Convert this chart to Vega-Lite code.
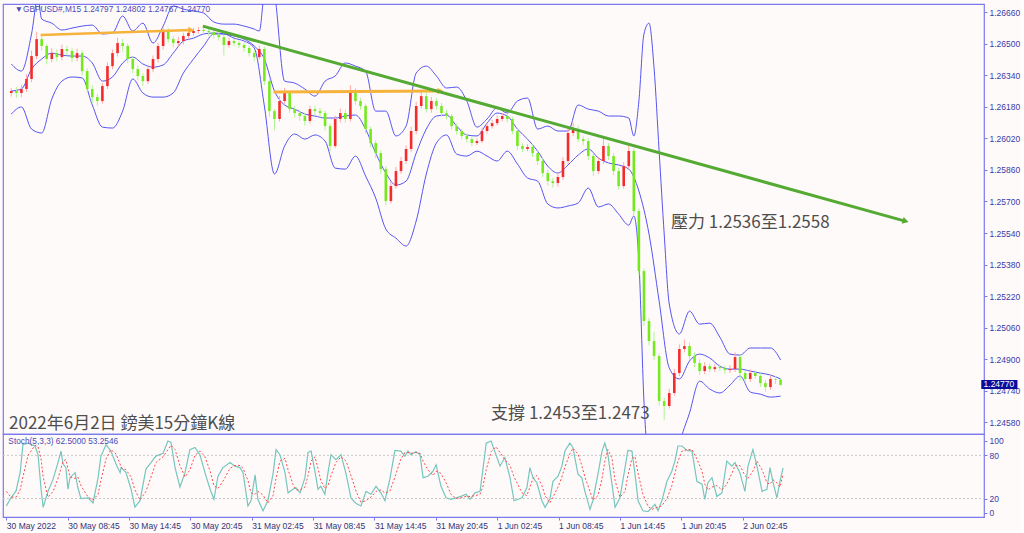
{
"$schema": "https://vega.github.io/schema/vega-lite/v6.json",
"padding": {"left": 0, "top": 3, "right": 0, "bottom": 0},
"background": "#fffafa",
"spacing": 0,
"bounds": "flush",
"config": {
  "view": {"stroke": "#7a7aee", "strokeWidth": 1.2},
  "axis": {"labelFont": "Liberation Sans", "labelFontSize": 8.5, "labelColor": "#3a3aa8", "tickColor": "#7a7aee", "domain": false, "grid": false}
},
"datasets": {
  "candles": [
{"i":0,"o":1.2625,"h":1.26275,"l":1.26232,"c":1.2626},
{"i":2,"o":1.2626,"h":1.2628,"l":1.26225,"c":1.2625},
{"i":4,"o":1.2625,"h":1.2629,"l":1.2623,"c":1.2627},
{"i":6,"o":1.2627,"h":1.26345,"l":1.26255,"c":1.26321},
{"i":8,"o":1.26321,"h":1.26465,"l":1.26305,"c":1.26437},
{"i":10,"o":1.26437,"h":1.2656,"l":1.2642,"c":1.26523},
{"i":12,"o":1.26523,"h":1.26545,"l":1.26465,"c":1.26488},
{"i":14,"o":1.26488,"h":1.265,"l":1.26395,"c":1.26422},
{"i":16,"o":1.26422,"h":1.26478,"l":1.26405,"c":1.26452},
{"i":18,"o":1.26452,"h":1.2647,"l":1.2641,"c":1.26432},
{"i":20,"o":1.26432,"h":1.26495,"l":1.26415,"c":1.26473},
{"i":22,"o":1.26473,"h":1.2649,"l":1.2644,"c":1.26463},
{"i":24,"o":1.26463,"h":1.2648,"l":1.26405,"c":1.26427},
{"i":26,"o":1.26427,"h":1.26475,"l":1.2641,"c":1.26452},
{"i":28,"o":1.26452,"h":1.26465,"l":1.2634,"c":1.26361},
{"i":30,"o":1.26361,"h":1.26375,"l":1.2625,"c":1.2627},
{"i":32,"o":1.2627,"h":1.2629,"l":1.262,"c":1.26229},
{"i":34,"o":1.26229,"h":1.26245,"l":1.26185,"c":1.26209},
{"i":36,"o":1.26209,"h":1.263,"l":1.26195,"c":1.26285},
{"i":38,"o":1.26285,"h":1.26405,"l":1.2627,"c":1.26386},
{"i":40,"o":1.26386,"h":1.2647,"l":1.2637,"c":1.26452},
{"i":42,"o":1.26452,"h":1.2653,"l":1.26435,"c":1.26503},
{"i":44,"o":1.26503,"h":1.26525,"l":1.2646,"c":1.26488},
{"i":46,"o":1.26488,"h":1.265,"l":1.264,"c":1.26422},
{"i":48,"o":1.26422,"h":1.26435,"l":1.2635,"c":1.26371},
{"i":50,"o":1.26371,"h":1.2639,"l":1.26315,"c":1.26336},
{"i":52,"o":1.26336,"h":1.2635,"l":1.26285,"c":1.2631},
{"i":54,"o":1.2631,"h":1.2639,"l":1.26295,"c":1.26371},
{"i":56,"o":1.26371,"h":1.2644,"l":1.26355,"c":1.26422},
{"i":58,"o":1.26422,"h":1.26505,"l":1.26405,"c":1.26488},
{"i":60,"o":1.26488,"h":1.26585,"l":1.2647,"c":1.26564},
{"i":62,"o":1.26564,"h":1.2658,"l":1.26505,"c":1.26523},
{"i":64,"o":1.26523,"h":1.2654,"l":1.2648,"c":1.26503},
{"i":66,"o":1.26503,"h":1.26535,"l":1.26485,"c":1.26513},
{"i":68,"o":1.26513,"h":1.26555,"l":1.26495,"c":1.26539},
{"i":70,"o":1.26539,"h":1.2657,"l":1.26525,"c":1.26554},
{"i":72,"o":1.26554,"h":1.2658,"l":1.2654,"c":1.26564},
{"i":74,"o":1.26564,"h":1.26585,"l":1.2655,"c":1.26569},
{"i":76,"o":1.26569,"h":1.26582,"l":1.26548,"c":1.26564},
{"i":78,"o":1.26564,"h":1.26578,"l":1.2654,"c":1.26559},
{"i":80,"o":1.26559,"h":1.2657,"l":1.26525,"c":1.26544},
{"i":82,"o":1.26544,"h":1.26555,"l":1.26515,"c":1.26533},
{"i":84,"o":1.26533,"h":1.26545,"l":1.2644,"c":1.26493},
{"i":86,"o":1.26493,"h":1.2653,"l":1.2648,"c":1.26513},
{"i":88,"o":1.26513,"h":1.26525,"l":1.26488,"c":1.26503},
{"i":90,"o":1.26503,"h":1.26515,"l":1.26478,"c":1.26493},
{"i":92,"o":1.26493,"h":1.26505,"l":1.2646,"c":1.26478},
{"i":94,"o":1.26478,"h":1.2649,"l":1.26435,"c":1.26452},
{"i":96,"o":1.26452,"h":1.26465,"l":1.2641,"c":1.26432},
{"i":98,"o":1.26432,"h":1.2649,"l":1.2642,"c":1.26473},
{"i":100,"o":1.26473,"h":1.26485,"l":1.2629,"c":1.2631},
{"i":102,"o":1.2631,"h":1.2632,"l":1.2613,"c":1.26158},
{"i":104,"o":1.26158,"h":1.2617,"l":1.2606,"c":1.26118},
{"i":106,"o":1.26118,"h":1.26235,"l":1.26105,"c":1.26209},
{"i":108,"o":1.26209,"h":1.26275,"l":1.26195,"c":1.2625},
{"i":110,"o":1.2625,"h":1.2626,"l":1.2615,"c":1.26168},
{"i":112,"o":1.26168,"h":1.26185,"l":1.26125,"c":1.26148},
{"i":114,"o":1.26148,"h":1.26165,"l":1.2611,"c":1.26133},
{"i":116,"o":1.26133,"h":1.2615,"l":1.26085,"c":1.26108},
{"i":118,"o":1.26108,"h":1.26185,"l":1.26095,"c":1.26168},
{"i":120,"o":1.26168,"h":1.26185,"l":1.26135,"c":1.26158},
{"i":122,"o":1.26158,"h":1.26175,"l":1.26125,"c":1.26148},
{"i":124,"o":1.26148,"h":1.2616,"l":1.2606,"c":1.26082},
{"i":126,"o":1.26082,"h":1.26095,"l":1.25955,"c":1.25981},
{"i":128,"o":1.25981,"h":1.26135,"l":1.2597,"c":1.26118},
{"i":130,"o":1.26118,"h":1.2617,"l":1.261,"c":1.26148},
{"i":132,"o":1.26148,"h":1.26165,"l":1.261,"c":1.26118},
{"i":134,"o":1.26118,"h":1.2629,"l":1.26105,"c":1.2626},
{"i":136,"o":1.2626,"h":1.26275,"l":1.2619,"c":1.26209},
{"i":138,"o":1.26209,"h":1.26225,"l":1.26165,"c":1.26184},
{"i":140,"o":1.26184,"h":1.26195,"l":1.26045,"c":1.26067},
{"i":142,"o":1.26067,"h":1.2608,"l":1.25975,"c":1.25996},
{"i":144,"o":1.25996,"h":1.2601,"l":1.2592,"c":1.25945},
{"i":146,"o":1.25945,"h":1.2596,"l":1.2584,"c":1.25864},
{"i":148,"o":1.25864,"h":1.2588,"l":1.2568,"c":1.25702},
{"i":150,"o":1.25702,"h":1.258,"l":1.2569,"c":1.25778},
{"i":152,"o":1.25778,"h":1.25875,"l":1.25765,"c":1.25854},
{"i":154,"o":1.25854,"h":1.25925,"l":1.2584,"c":1.25905},
{"i":156,"o":1.25905,"h":1.25985,"l":1.2589,"c":1.25966},
{"i":158,"o":1.25966,"h":1.2608,"l":1.2595,"c":1.26057},
{"i":160,"o":1.26057,"h":1.26205,"l":1.2604,"c":1.26184},
{"i":162,"o":1.26184,"h":1.26265,"l":1.2617,"c":1.26234},
{"i":164,"o":1.26234,"h":1.2625,"l":1.2615,"c":1.26168},
{"i":166,"o":1.26168,"h":1.2623,"l":1.2615,"c":1.26209},
{"i":168,"o":1.26209,"h":1.26225,"l":1.26165,"c":1.26184},
{"i":170,"o":1.26184,"h":1.262,"l":1.2613,"c":1.26148},
{"i":172,"o":1.26148,"h":1.26165,"l":1.26115,"c":1.26133},
{"i":174,"o":1.26133,"h":1.26145,"l":1.26065,"c":1.26082},
{"i":176,"o":1.26082,"h":1.26095,"l":1.2604,"c":1.26057},
{"i":178,"o":1.26057,"h":1.2607,"l":1.26015,"c":1.26032},
{"i":180,"o":1.26032,"h":1.26045,"l":1.26,"c":1.26016},
{"i":182,"o":1.26016,"h":1.2603,"l":1.2598,"c":1.25996},
{"i":184,"o":1.25996,"h":1.2602,"l":1.25985,"c":1.26006},
{"i":186,"o":1.26006,"h":1.26075,"l":1.25995,"c":1.26057},
{"i":188,"o":1.26057,"h":1.261,"l":1.26045,"c":1.26082},
{"i":190,"o":1.26082,"h":1.26115,"l":1.2607,"c":1.26097},
{"i":192,"o":1.26097,"h":1.26135,"l":1.26085,"c":1.26118},
{"i":194,"o":1.26118,"h":1.2615,"l":1.26105,"c":1.26133},
{"i":196,"o":1.26133,"h":1.26145,"l":1.261,"c":1.26118},
{"i":198,"o":1.26118,"h":1.2613,"l":1.2604,"c":1.26057},
{"i":200,"o":1.26057,"h":1.2607,"l":1.2596,"c":1.25981},
{"i":202,"o":1.25981,"h":1.25995,"l":1.2595,"c":1.25966},
{"i":204,"o":1.25966,"h":1.2599,"l":1.25955,"c":1.25976},
{"i":206,"o":1.25976,"h":1.2599,"l":1.25925,"c":1.25945},
{"i":208,"o":1.25945,"h":1.2596,"l":1.25885,"c":1.25905},
{"i":210,"o":1.25905,"h":1.2592,"l":1.25825,"c":1.25844},
{"i":212,"o":1.25844,"h":1.2586,"l":1.2578,"c":1.25803},
{"i":214,"o":1.25803,"h":1.2582,"l":1.2577,"c":1.25793},
{"i":216,"o":1.25793,"h":1.25845,"l":1.25775,"c":1.25824},
{"i":218,"o":1.25824,"h":1.25925,"l":1.2581,"c":1.25905},
{"i":220,"o":1.25905,"h":1.2607,"l":1.2589,"c":1.26047},
{"i":222,"o":1.26047,"h":1.261,"l":1.2603,"c":1.26067},
{"i":224,"o":1.26067,"h":1.26085,"l":1.26,"c":1.26016},
{"i":226,"o":1.26016,"h":1.2603,"l":1.25985,"c":1.26006},
{"i":228,"o":1.26006,"h":1.2602,"l":1.2591,"c":1.2593},
{"i":230,"o":1.2593,"h":1.25945,"l":1.2583,"c":1.25854},
{"i":232,"o":1.25854,"h":1.25925,"l":1.2584,"c":1.25905},
{"i":234,"o":1.25905,"h":1.2603,"l":1.2589,"c":1.25981},
{"i":236,"o":1.25981,"h":1.25995,"l":1.2591,"c":1.2593},
{"i":238,"o":1.2593,"h":1.25945,"l":1.25835,"c":1.25854},
{"i":240,"o":1.25854,"h":1.2587,"l":1.2576,"c":1.25778},
{"i":242,"o":1.25778,"h":1.259,"l":1.25765,"c":1.25879},
{"i":244,"o":1.25879,"h":1.25995,"l":1.25865,"c":1.25956},
{"i":246,"o":1.25956,"h":1.2597,"l":1.2563,"c":1.25651},
{"i":248,"o":1.25651,"h":1.25665,"l":1.25325,"c":1.25347},
{"i":250,"o":1.25347,"h":1.2536,"l":1.2507,"c":1.25094},
{"i":252,"o":1.25094,"h":1.2511,"l":1.2497,"c":1.24992},
{"i":254,"o":1.24992,"h":1.2504,"l":1.24895,"c":1.24916},
{"i":256,"o":1.24916,"h":1.2493,"l":1.24665,"c":1.24688},
{"i":258,"o":1.24688,"h":1.24705,"l":1.2459,"c":1.24663},
{"i":260,"o":1.24663,"h":1.2475,"l":1.2465,"c":1.24729},
{"i":262,"o":1.24729,"h":1.2485,"l":1.24715,"c":1.2483},
{"i":264,"o":1.2483,"h":1.24975,"l":1.24815,"c":1.24952},
{"i":266,"o":1.24952,"h":1.25,"l":1.24935,"c":1.24967},
{"i":268,"o":1.24967,"h":1.24985,"l":1.24895,"c":1.24916},
{"i":270,"o":1.24916,"h":1.24935,"l":1.2486,"c":1.24881},
{"i":272,"o":1.24881,"h":1.249,"l":1.2482,"c":1.2484},
{"i":274,"o":1.2484,"h":1.24885,"l":1.24825,"c":1.24865},
{"i":276,"o":1.24865,"h":1.2488,"l":1.24835,"c":1.2485},
{"i":278,"o":1.2485,"h":1.24875,"l":1.24835,"c":1.2486},
{"i":280,"o":1.2486,"h":1.24872,"l":1.2484,"c":1.24855},
{"i":282,"o":1.24855,"h":1.24868,"l":1.24825,"c":1.24845},
{"i":284,"o":1.24845,"h":1.2487,"l":1.2483,"c":1.2485},
{"i":286,"o":1.2485,"h":1.24935,"l":1.24835,"c":1.24911},
{"i":288,"o":1.24911,"h":1.24925,"l":1.2479,"c":1.2483},
{"i":290,"o":1.2483,"h":1.24845,"l":1.2478,"c":1.248},
{"i":292,"o":1.248,"h":1.2485,"l":1.24785,"c":1.2483},
{"i":294,"o":1.2483,"h":1.24845,"l":1.248,"c":1.24815},
{"i":296,"o":1.24815,"h":1.2483,"l":1.2476,"c":1.24779},
{"i":298,"o":1.24779,"h":1.24795,"l":1.24735,"c":1.24759},
{"i":300,"o":1.24759,"h":1.2482,"l":1.24745,"c":1.248},
{"i":302,"o":1.248,"h":1.24815,"l":1.24775,"c":1.24797},
{"i":304,"o":1.24797,"h":1.24802,"l":1.24767,"c":1.2477}
  ],
  "bandUp": [
{"i":0,"p":1.26397},{"i":4,"p":1.26361},{"i":8,"p":1.26549},{"i":10.5,"p":1.26731},{"i":12,"p":1.26625},{"i":16,"p":1.26604},{"i":20,"p":1.26569},{"i":24,"p":1.26579},{"i":28,"p":1.26589},{"i":32,"p":1.26594},{"i":36,"p":1.26549},{"i":40,"p":1.26554},{"i":44,"p":1.2664},{"i":48,"p":1.26564},{"i":52,"p":1.26604},{"i":56,"p":1.26503},{"i":60,"p":1.26589},{"i":64,"p":1.26691},{"i":68,"p":1.26675},{"i":72,"p":1.26665},{"i":76,"p":1.26655},{"i":80,"p":1.2661},{"i":84,"p":1.26599},{"i":88,"p":1.26599},{"i":92,"p":1.26589},{"i":96,"p":1.26574},{"i":98,"p":1.26564},{"i":100,"p":1.26767},{"i":102,"p":1.26843},{"i":104,"p":1.26757},{"i":108,"p":1.2631},{"i":112,"p":1.263},{"i":116,"p":1.2627},{"i":120,"p":1.26234},{"i":124,"p":1.2631},{"i":128,"p":1.26336},{"i":132,"p":1.26402},{"i":136,"p":1.26386},{"i":140,"p":1.26361},{"i":144,"p":1.26158},{"i":148,"p":1.26158},{"i":152,"p":1.26032},{"i":156,"p":1.26082},{"i":160,"p":1.26351},{"i":164,"p":1.26386},{"i":168,"p":1.26336},{"i":172,"p":1.26275},{"i":176,"p":1.2628},{"i":180,"p":1.26209},{"i":184,"p":1.26077},{"i":188,"p":1.26118},{"i":192,"p":1.26174},{"i":196,"p":1.26148},{"i":200,"p":1.26209},{"i":204,"p":1.26224},{"i":208,"p":1.26067},{"i":212,"p":1.26082},{"i":216,"p":1.26057},{"i":220,"p":1.26057},{"i":224,"p":1.26189},{"i":228,"p":1.26168},{"i":232,"p":1.26158},{"i":236,"p":1.26133},{"i":240,"p":1.26133},{"i":244,"p":1.26123},{"i":246,"p":1.26032},{"i":248,"p":1.26209},{"i":250,"p":1.26549},{"i":252,"p":1.26604},{"i":254,"p":1.26376},{"i":256,"p":1.25955},{"i":258,"p":1.25535},{"i":260,"p":1.2518},{"i":264,"p":1.25028},{"i":268,"p":1.25144},{"i":272,"p":1.25078},{"i":276,"p":1.25083},{"i":280,"p":1.25012},{"i":284,"p":1.24926},{"i":288,"p":1.24921},{"i":292,"p":1.24957},{"i":296,"p":1.24957},{"i":300,"p":1.24957},{"i":304,"p":1.24896}
  ],
  "bandMid": [
{"i":0,"p":1.2626},{"i":4,"p":1.2627},{"i":8,"p":1.26371},{"i":12,"p":1.26422},{"i":16,"p":1.26452},{"i":20,"p":1.26442},{"i":24,"p":1.26437},{"i":28,"p":1.26437},{"i":32,"p":1.26402},{"i":36,"p":1.2631},{"i":40,"p":1.26331},{"i":44,"p":1.26402},{"i":48,"p":1.26432},{"i":52,"p":1.26397},{"i":56,"p":1.26381},{"i":60,"p":1.26392},{"i":64,"p":1.26452},{"i":68,"p":1.26513},{"i":72,"p":1.26528},{"i":76,"p":1.26549},{"i":80,"p":1.26554},{"i":84,"p":1.26549},{"i":88,"p":1.26539},{"i":92,"p":1.26523},{"i":96,"p":1.26488},{"i":100,"p":1.26422},{"i":104,"p":1.2626},{"i":108,"p":1.26189},{"i":112,"p":1.26168},{"i":116,"p":1.26143},{"i":120,"p":1.26133},{"i":124,"p":1.26123},{"i":128,"p":1.26123},{"i":132,"p":1.26133},{"i":136,"p":1.26138},{"i":140,"p":1.26067},{"i":144,"p":1.25945},{"i":148,"p":1.25844},{"i":152,"p":1.25783},{"i":156,"p":1.25803},{"i":160,"p":1.25945},{"i":164,"p":1.26067},{"i":168,"p":1.26133},{"i":172,"p":1.26138},{"i":176,"p":1.26082},{"i":180,"p":1.26037},{"i":184,"p":1.26032},{"i":188,"p":1.26097},{"i":192,"p":1.26148},{"i":196,"p":1.26133},{"i":200,"p":1.26067},{"i":204,"p":1.26016},{"i":208,"p":1.25955},{"i":212,"p":1.25879},{"i":216,"p":1.25844},{"i":220,"p":1.25885},{"i":224,"p":1.25935},{"i":228,"p":1.25966},{"i":232,"p":1.2592},{"i":236,"p":1.25895},{"i":240,"p":1.25885},{"i":244,"p":1.25864},{"i":248,"p":1.25753},{"i":252,"p":1.25535},{"i":256,"p":1.25195},{"i":260,"p":1.24855},{"i":264,"p":1.248},{"i":268,"p":1.24891},{"i":272,"p":1.24926},{"i":276,"p":1.24906},{"i":280,"p":1.24865},{"i":284,"p":1.2485},{"i":288,"p":1.2485},{"i":292,"p":1.2484},{"i":296,"p":1.2483},{"i":300,"p":1.2482},{"i":304,"p":1.248}
  ],
  "bandLow": [
{"i":0,"p":1.26143},{"i":4,"p":1.26179},{"i":8,"p":1.26067},{"i":12,"p":1.26047},{"i":16,"p":1.26219},{"i":20,"p":1.2631},{"i":24,"p":1.26331},{"i":28,"p":1.26326},{"i":32,"p":1.26189},{"i":36,"p":1.26077},{"i":40,"p":1.26072},{"i":44,"p":1.26158},{"i":48,"p":1.26321},{"i":52,"p":1.2625},{"i":56,"p":1.26229},{"i":60,"p":1.26229},{"i":64,"p":1.2625},{"i":68,"p":1.26351},{"i":72,"p":1.26422},{"i":76,"p":1.26488},{"i":80,"p":1.26549},{"i":84,"p":1.26549},{"i":88,"p":1.26528},{"i":92,"p":1.26513},{"i":96,"p":1.26478},{"i":100,"p":1.26184},{"i":104,"p":1.25839},{"i":108,"p":1.25981},{"i":112,"p":1.26042},{"i":116,"p":1.26016},{"i":120,"p":1.26037},{"i":124,"p":1.26006},{"i":128,"p":1.25869},{"i":132,"p":1.25864},{"i":136,"p":1.2593},{"i":140,"p":1.25829},{"i":144,"p":1.25717},{"i":148,"p":1.2556},{"i":152,"p":1.25514},{"i":156,"p":1.25474},{"i":160,"p":1.25601},{"i":164,"p":1.25839},{"i":168,"p":1.25996},{"i":172,"p":1.26037},{"i":176,"p":1.2594},{"i":180,"p":1.2593},{"i":184,"p":1.25955},{"i":188,"p":1.2593},{"i":192,"p":1.25905},{"i":196,"p":1.25955},{"i":200,"p":1.2589},{"i":204,"p":1.25819},{"i":208,"p":1.25803},{"i":212,"p":1.25687},{"i":216,"p":1.25667},{"i":220,"p":1.25677},{"i":224,"p":1.25692},{"i":228,"p":1.25768},{"i":232,"p":1.25672},{"i":236,"p":1.25687},{"i":240,"p":1.25636},{"i":244,"p":1.2558},{"i":246,"p":1.25626},{"i":248,"p":1.25398},{"i":250,"p":1.24688},{"i":252,"p":1.24333},{"i":256,"p":1.2408},{"i":260,"p":1.2413},{"i":264,"p":1.2446},{"i":268,"p":1.24627},{"i":272,"p":1.24789},{"i":276,"p":1.24749},{"i":280,"p":1.24729},{"i":284,"p":1.24769},{"i":288,"p":1.24815},{"i":292,"p":1.24734},{"i":296,"p":1.24723},{"i":300,"p":1.24708},{"i":304,"p":1.24713}
  ],
  "stoch": [
{"i":0,"k":9.7,"d":30},{"i":1.8,"k":21,"d":22},{"i":3.8,"k":30.6,"d":22},{"i":5.4,"k":56,"d":32},{"i":6.5,"k":95,"d":50},{"i":8.5,"k":97,"d":80},{"i":11.2,"k":93,"d":94},{"i":12.4,"k":81,"d":92},{"i":13.6,"k":33,"d":75},{"i":14.4,"k":8,"d":50},{"i":16.3,"k":30,"d":22},{"i":18.3,"k":47,"d":30},{"i":20.2,"k":70,"d":48},{"i":21.4,"k":86,"d":62},{"i":22.2,"k":68,"d":72},{"i":23.3,"k":63,"d":74},{"i":24.1,"k":33,"d":62},{"i":24.9,"k":49,"d":50},{"i":26.9,"k":56,"d":48},{"i":28,"k":35,"d":50},{"i":29.2,"k":20,"d":38},{"i":32,"k":21,"d":22},{"i":33.9,"k":14,"d":18},{"i":35.9,"k":49,"d":26},{"i":37,"k":79,"d":45},{"i":39,"k":95,"d":75},{"i":40.9,"k":86,"d":88},{"i":42.9,"k":68,"d":82},{"i":44.5,"k":56,"d":68},{"i":44.9,"k":63,"d":63},{"i":46.8,"k":56,"d":60},{"i":48.8,"k":33,"d":50},{"i":50.3,"k":8,"d":32},{"i":52.3,"k":17,"d":18},{"i":54.6,"k":61,"d":30},{"i":56.6,"k":70,"d":50},{"i":58.5,"k":79,"d":70},{"i":61.3,"k":83,"d":78},{"i":63.2,"k":100,"d":88},{"i":64.4,"k":98,"d":94},{"i":66,"k":63,"d":88},{"i":67.9,"k":36,"d":66},{"i":69.9,"k":56,"d":50},{"i":71.8,"k":88,"d":60},{"i":73.8,"k":91,"d":80},{"i":75.7,"k":81,"d":86},{"i":77.7,"k":56,"d":78},{"i":79.7,"k":33,"d":58},{"i":81.2,"k":19,"d":38},{"i":82.8,"k":51,"d":34},{"i":84.7,"k":63,"d":44},{"i":87.5,"k":70,"d":62},{"i":89.4,"k":65,"d":66},{"i":91.4,"k":63,"d":66},{"i":92.6,"k":56,"d":62},{"i":94.5,"k":9.7,"d":45},{"i":95.7,"k":17,"d":28},{"i":97.3,"k":53,"d":26},{"i":98.4,"k":19,"d":30},{"i":100.4,"k":3,"d":25},{"i":102.3,"k":17,"d":14},{"i":104.3,"k":54,"d":24},{"i":105.5,"k":88,"d":48},{"i":107,"k":81,"d":72},{"i":109,"k":56,"d":76},{"i":110.2,"k":28,"d":60},{"i":112.1,"k":33,"d":40},{"i":113.3,"k":35,"d":32},{"i":114.9,"k":28,"d":32},{"i":116.8,"k":49,"d":36},{"i":118,"k":84,"d":52},{"i":119.2,"k":86,"d":72},{"i":120.7,"k":58,"d":78},{"i":121.9,"k":33,"d":62},{"i":123,"k":37,"d":45},{"i":124.6,"k":26,"d":34},{"i":125.8,"k":56,"d":38},{"i":127,"k":81,"d":52},{"i":128.9,"k":74,"d":70},{"i":130.9,"k":81,"d":78},{"i":132.9,"k":54,"d":72},{"i":134.8,"k":21,"d":52},{"i":136.8,"k":13,"d":30},{"i":138.7,"k":9.7,"d":15},{"i":140.7,"k":30,"d":17},{"i":142.6,"k":26,"d":22},{"i":144.6,"k":37,"d":30},{"i":146.5,"k":28,"d":32},{"i":148.1,"k":17,"d":28},{"i":150,"k":47,"d":30},{"i":152,"k":87,"d":50},{"i":154.3,"k":86,"d":75},{"i":155.9,"k":79,"d":84},{"i":157.1,"k":86,"d":84},{"i":158.3,"k":81,"d":83},{"i":160.2,"k":85,"d":84},{"i":161.8,"k":81,"d":83},{"i":163,"k":49,"d":72},{"i":164.9,"k":51,"d":60},{"i":166.9,"k":58,"d":52},{"i":168.1,"k":67,"d":58},{"i":170,"k":37,"d":55},{"i":172,"k":21,"d":42},{"i":173.9,"k":19,"d":26},{"i":175.9,"k":21,"d":20},{"i":177.8,"k":23,"d":21},{"i":179.8,"k":26,"d":23},{"i":181.4,"k":19,"d":23},{"i":183.3,"k":28,"d":24},{"i":185.3,"k":30,"d":26},{"i":186.5,"k":63,"d":38},{"i":187.7,"k":97,"d":60},{"i":189.6,"k":100,"d":85},{"i":191.5,"k":81,"d":92},{"i":193.1,"k":65,"d":84},{"i":195,"k":77,"d":74},{"i":197,"k":49,"d":66},{"i":198.6,"k":17,"d":50},{"i":201.7,"k":21,"d":28},{"i":203.6,"k":35,"d":24},{"i":204.8,"k":63,"d":36},{"i":206,"k":49,"d":48},{"i":207.5,"k":42,"d":52},{"i":209.5,"k":17,"d":38},{"i":210.7,"k":7.8,"d":24},{"i":212.6,"k":19,"d":14},{"i":213.8,"k":44,"d":22},{"i":215.8,"k":51,"d":36},{"i":217.3,"k":65,"d":50},{"i":218.5,"k":86,"d":64},{"i":220.4,"k":97,"d":82},{"i":221.6,"k":91,"d":90},{"i":223.6,"k":54,"d":82},{"i":225.1,"k":49,"d":66},{"i":226.3,"k":30,"d":50},{"i":228.3,"k":5,"d":30},{"i":229.4,"k":17,"d":18},{"i":231.4,"k":54,"d":24},{"i":233,"k":86,"d":48},{"i":234.1,"k":97,"d":72},{"i":235.3,"k":81,"d":88},{"i":236.9,"k":40,"d":76},{"i":238.1,"k":7.8,"d":45},{"i":240,"k":21,"d":22},{"i":242,"k":63,"d":30},{"i":243.1,"k":87,"d":52},{"i":244.7,"k":86,"d":76},{"i":245.9,"k":54,"d":78},{"i":247.1,"k":17,"d":55},{"i":249,"k":3,"d":26},{"i":251,"k":2,"d":9},{"i":252.6,"k":7.8,"d":5},{"i":253.7,"k":12,"d":7},{"i":254.9,"k":3,"d":8},{"i":256.4,"k":17,"d":10},{"i":258.4,"k":44,"d":20},{"i":260.3,"k":58,"d":38},{"i":261.5,"k":72,"d":55},{"i":262.7,"k":93,"d":72},{"i":264.3,"k":93,"d":86},{"i":266.2,"k":87,"d":88},{"i":268.2,"k":86,"d":88},{"i":270.1,"k":44,"d":75},{"i":272.1,"k":40,"d":58},{"i":273.2,"k":19,"d":40},{"i":274.4,"k":42,"d":32},{"i":276,"k":49,"d":36},{"i":277.9,"k":23,"d":38},{"i":279.9,"k":28,"d":32},{"i":281.8,"k":72,"d":40},{"i":283.8,"k":65,"d":55},{"i":285,"k":70,"d":66},{"i":286.9,"k":56,"d":66},{"i":288.9,"k":30,"d":52},{"i":290.1,"k":65,"d":48},{"i":292,"k":88,"d":58},{"i":293.6,"k":65,"d":72},{"i":295.6,"k":30,"d":60},{"i":297.5,"k":33,"d":42},{"i":298.7,"k":63,"d":40},{"i":299.9,"k":42,"d":46},{"i":301.4,"k":21,"d":42},{"i":302.6,"k":44,"d":36},{"i":303.8,"k":62.5,"d":53.25}
  ]
},
"vconcat": [
{
  "width": 981,
  "height": 430,
  "layer": [
    {
      "data": {"name": "bandUp"},
      "mark": {"type": "line", "color": "#5555f2", "strokeWidth": 1, "interpolate": "monotone", "clip": true},
      "encoding": {
        "x": {"field": "i", "type": "quantitative", "scale": {"domain": [-1.3, 382.4], "nice": false, "zero": false}, "axis": null},
        "y": {"field": "p", "type": "quantitative", "scale": {"domain": [1.24521, 1.26701], "nice": false, "zero": false},
              "axis": {"orient": "right", "values": [1.2666, 1.265, 1.2634, 1.2618, 1.2602, 1.2586, 1.257, 1.2554, 1.2538, 1.2522, 1.2506, 1.249, 1.2474, 1.2458], "format": ".5f", "title": null, "tickSize": 3, "labelPadding": 2, "labelOverlap": false, "labelBound": false, "labelFlush": false}}
      }
    },
    {
      "data": {"name": "bandMid"},
      "mark": {"type": "line", "color": "#5555f2", "strokeWidth": 1, "interpolate": "monotone", "clip": true},
      "encoding": {
        "x": {"field": "i", "type": "quantitative", "scale": {"domain": [-1.3, 382.4], "nice": false, "zero": false}, "axis": null},
        "y": {"field": "p", "type": "quantitative", "scale": {"domain": [1.24521, 1.26701], "nice": false, "zero": false},
              "axis": {"orient": "right", "values": [1.2666, 1.265, 1.2634, 1.2618, 1.2602, 1.2586, 1.257, 1.2554, 1.2538, 1.2522, 1.2506, 1.249, 1.2474, 1.2458], "format": ".5f", "title": null, "tickSize": 3, "labelPadding": 2, "labelOverlap": false, "labelBound": false, "labelFlush": false}}
      }
    },
    {
      "data": {"name": "bandLow"},
      "mark": {"type": "line", "color": "#5555f2", "strokeWidth": 1, "interpolate": "monotone", "clip": true},
      "encoding": {
        "x": {"field": "i", "type": "quantitative", "scale": {"domain": [-1.3, 382.4], "nice": false, "zero": false}, "axis": null},
        "y": {"field": "p", "type": "quantitative", "scale": {"domain": [1.24521, 1.26701], "nice": false, "zero": false},
              "axis": {"orient": "right", "values": [1.2666, 1.265, 1.2634, 1.2618, 1.2602, 1.2586, 1.257, 1.2554, 1.2538, 1.2522, 1.2506, 1.249, 1.2474, 1.2458], "format": ".5f", "title": null, "tickSize": 3, "labelPadding": 2, "labelOverlap": false, "labelBound": false, "labelFlush": false}}
      }
    },
    {
      "data": {"name": "candles"},
      "mark": {"type": "rule", "strokeWidth": 1, "clip": true},
      "encoding": {
        "x": {"field": "i", "type": "quantitative", "scale": {"domain": [-1.3, 382.4], "nice": false, "zero": false}, "axis": null},
        "y": {"field": "l", "type": "quantitative", "scale": {"domain": [1.24521, 1.26701], "nice": false, "zero": false},
              "axis": {"orient": "right", "values": [1.2666, 1.265, 1.2634, 1.2618, 1.2602, 1.2586, 1.257, 1.2554, 1.2538, 1.2522, 1.2506, 1.249, 1.2474, 1.2458], "format": ".5f", "title": null, "tickSize": 3, "labelPadding": 2, "labelOverlap": false, "labelBound": false, "labelFlush": false}},
        "y2": {"field": "h"},
        "color": {"condition": {"test": "datum.c >= datum.o", "value": "#ffa8a8"}, "value": "#b0f296"}
      }
    },
    {
      "data": {"name": "candles"},
      "mark": {"type": "bar", "width": 2.6, "clip": true},
      "encoding": {
        "x": {"field": "i", "type": "quantitative", "scale": {"domain": [-1.3, 382.4], "nice": false, "zero": false}, "axis": null},
        "y": {"field": "o", "type": "quantitative", "scale": {"domain": [1.24521, 1.26701], "nice": false, "zero": false},
              "axis": {"orient": "right", "values": [1.2666, 1.265, 1.2634, 1.2618, 1.2602, 1.2586, 1.257, 1.2554, 1.2538, 1.2522, 1.2506, 1.249, 1.2474, 1.2458], "format": ".5f", "title": null, "tickSize": 3, "labelPadding": 2, "labelOverlap": false, "labelBound": false, "labelFlush": false}},
        "y2": {"field": "c"},
        "color": {"condition": {"test": "datum.c >= datum.o", "value": "#f52a2a"}, "value": "#74ea1e"}
      }
    },
    {
      "data": {"values": [{"i": 11.6, "p": 1.26544}, {"i": 71.1, "p": 1.26569}]},
      "mark": {"type": "line", "color": "#f5b33c", "strokeWidth": 2.6},
      "encoding": {
        "x": {"field": "i", "type": "quantitative", "scale": {"domain": [-1.3, 382.4], "nice": false, "zero": false}, "axis": null},
        "y": {"field": "p", "type": "quantitative", "scale": {"domain": [1.24521, 1.26701], "nice": false, "zero": false},
              "axis": {"orient": "right", "values": [1.2666, 1.265, 1.2634, 1.2618, 1.2602, 1.2586, 1.257, 1.2554, 1.2538, 1.2522, 1.2506, 1.249, 1.2474, 1.2458], "format": ".5f", "title": null, "tickSize": 3, "labelPadding": 2, "labelOverlap": false, "labelBound": false, "labelFlush": false}}
      }
    },
    {
      "data": {"values": [{"i": 103.6, "p": 1.26255}, {"i": 169.6, "p": 1.2626}]},
      "mark": {"type": "line", "color": "#f5b33c", "strokeWidth": 3},
      "encoding": {
        "x": {"field": "i", "type": "quantitative", "scale": {"domain": [-1.3, 382.4], "nice": false, "zero": false}, "axis": null},
        "y": {"field": "p", "type": "quantitative", "scale": {"domain": [1.24521, 1.26701], "nice": false, "zero": false},
              "axis": {"orient": "right", "values": [1.2666, 1.265, 1.2634, 1.2618, 1.2602, 1.2586, 1.257, 1.2554, 1.2538, 1.2522, 1.2506, 1.249, 1.2474, 1.2458], "format": ".5f", "title": null, "tickSize": 3, "labelPadding": 2, "labelOverlap": false, "labelBound": false, "labelFlush": false}}
      }
    },
    {
      "data": {"values": [{"i": 71.1, "p": 1.26569, "a": -2}, {"i": 169.6, "p": 1.2626, "a": 0}]},
      "mark": {"type": "point", "shape": "triangle-right", "filled": true, "size": 45, "color": "#f5b33c", "opacity": 1},
      "encoding": {
        "x": {"field": "i", "type": "quantitative", "scale": {"domain": [-1.3, 382.4], "nice": false, "zero": false}, "axis": null},
        "y": {"field": "p", "type": "quantitative", "scale": {"domain": [1.24521, 1.26701], "nice": false, "zero": false},
              "axis": {"orient": "right", "values": [1.2666, 1.265, 1.2634, 1.2618, 1.2602, 1.2586, 1.257, 1.2554, 1.2538, 1.2522, 1.2506, 1.249, 1.2474, 1.2458], "format": ".5f", "title": null, "tickSize": 3, "labelPadding": 2, "labelOverlap": false, "labelBound": false, "labelFlush": false}},
        "angle": {"field": "a", "type": "quantitative", "scale": null}
      }
    },
    {
      "data": {"values": [{"i": 75.7, "p": 1.26589}, {"i": 352.5, "p": 1.25603}]},
      "mark": {"type": "line", "color": "#55aa33", "strokeWidth": 3},
      "encoding": {
        "x": {"field": "i", "type": "quantitative", "scale": {"domain": [-1.3, 382.4], "nice": false, "zero": false}, "axis": null},
        "y": {"field": "p", "type": "quantitative", "scale": {"domain": [1.24521, 1.26701], "nice": false, "zero": false},
              "axis": {"orient": "right", "values": [1.2666, 1.265, 1.2634, 1.2618, 1.2602, 1.2586, 1.257, 1.2554, 1.2538, 1.2522, 1.2506, 1.249, 1.2474, 1.2458], "format": ".5f", "title": null, "tickSize": 3, "labelPadding": 2, "labelOverlap": false, "labelBound": false, "labelFlush": false}}
      }
    },
    {
      "data": {"values": [{"i": 353.4, "p": 1.256, "a": 15.5}]},
      "mark": {"type": "point", "shape": "triangle-right", "filled": true, "size": 50, "color": "#55aa33", "opacity": 1},
      "encoding": {
        "x": {"field": "i", "type": "quantitative", "scale": {"domain": [-1.3, 382.4], "nice": false, "zero": false}, "axis": null},
        "y": {"field": "p", "type": "quantitative", "scale": {"domain": [1.24521, 1.26701], "nice": false, "zero": false},
              "axis": {"orient": "right", "values": [1.2666, 1.265, 1.2634, 1.2618, 1.2602, 1.2586, 1.257, 1.2554, 1.2538, 1.2522, 1.2506, 1.249, 1.2474, 1.2458], "format": ".5f", "title": null, "tickSize": 3, "labelPadding": 2, "labelOverlap": false, "labelBound": false, "labelFlush": false}},
        "angle": {"field": "a", "type": "quantitative", "scale": null}
      }
    },
    {
      "data": {"values": [
        {"i": 260.7, "p": 1.25591, "t": "壓力 1.2536至1.2558"},
        {"i": 189.6, "p": 1.24622, "t": "支撐 1.2453至1.2473"},
        {"i": -0.9, "p": 1.24571, "t": "2022年6月2日 鎊美15分鐘K線"}
      ]},
      "mark": {"type": "text", "align": "left", "baseline": "middle", "font": "Noto Sans CJK TC", "fontSize": 17, "color": "#4e4e4e"},
      "encoding": {
        "x": {"field": "i", "type": "quantitative", "scale": {"domain": [-1.3, 382.4], "nice": false, "zero": false}, "axis": null},
        "y": {"field": "p", "type": "quantitative", "scale": {"domain": [1.24521, 1.26701], "nice": false, "zero": false},
              "axis": {"orient": "right", "values": [1.2666, 1.265, 1.2634, 1.2618, 1.2602, 1.2586, 1.257, 1.2554, 1.2538, 1.2522, 1.2506, 1.249, 1.2474, 1.2458], "format": ".5f", "title": null, "tickSize": 3, "labelPadding": 2, "labelOverlap": false, "labelBound": false, "labelFlush": false}},
        "text": {"field": "t"}
      }
    },
    {
      "data": {"values": [{"i": 1.4, "p": 1.26671, "t": "▼"}, {"i": 4.6, "p": 1.26671, "t": "GBPUSD#,M15  1.24797 1.24802 1.24767 1.24770"}]},
      "mark": {"type": "text", "align": "left", "baseline": "middle", "font": "Liberation Sans", "fontSize": 8.3, "color": "#4a4ab8"},
      "encoding": {
        "x": {"field": "i", "type": "quantitative", "scale": {"domain": [-1.3, 382.4], "nice": false, "zero": false}, "axis": null},
        "y": {"field": "p", "type": "quantitative", "scale": {"domain": [1.24521, 1.26701], "nice": false, "zero": false},
              "axis": {"orient": "right", "values": [1.2666, 1.265, 1.2634, 1.2618, 1.2602, 1.2586, 1.257, 1.2554, 1.2538, 1.2522, 1.2506, 1.249, 1.2474, 1.2458], "format": ".5f", "title": null, "tickSize": 3, "labelPadding": 2, "labelOverlap": false, "labelBound": false, "labelFlush": false}},
        "text": {"field": "t"}
      }
    },
    {
      "data": {"values": [{"i": 383.3, "i2": 397.6, "p": 1.24749, "p2": 1.24795}]},
      "mark": {"type": "rect", "color": "#0b0b9c"},
      "encoding": {
        "x": {"field": "i", "type": "quantitative", "scale": {"domain": [-1.3, 382.4], "nice": false, "zero": false}, "axis": null},
        "x2": {"field": "i2"},
        "y": {"field": "p", "type": "quantitative", "scale": {"domain": [1.24521, 1.26701], "nice": false, "zero": false},
              "axis": {"orient": "right", "values": [1.2666, 1.265, 1.2634, 1.2618, 1.2602, 1.2586, 1.257, 1.2554, 1.2538, 1.2522, 1.2506, 1.249, 1.2474, 1.2458], "format": ".5f", "title": null, "tickSize": 3, "labelPadding": 2, "labelOverlap": false, "labelBound": false, "labelFlush": false}},
        "y2": {"field": "p2"}
      }
    },
    {
      "data": {"values": [{"i": 384.2, "p": 1.24772, "t": "1.24770"}]},
      "mark": {"type": "text", "align": "left", "baseline": "middle", "font": "Liberation Sans", "fontSize": 8.5, "color": "#ffffff"},
      "encoding": {
        "x": {"field": "i", "type": "quantitative", "scale": {"domain": [-1.3, 382.4], "nice": false, "zero": false}, "axis": null},
        "y": {"field": "p", "type": "quantitative", "scale": {"domain": [1.24521, 1.26701], "nice": false, "zero": false},
              "axis": {"orient": "right", "values": [1.2666, 1.265, 1.2634, 1.2618, 1.2602, 1.2586, 1.257, 1.2554, 1.2538, 1.2522, 1.2506, 1.249, 1.2474, 1.2458], "format": ".5f", "title": null, "tickSize": 3, "labelPadding": 2, "labelOverlap": false, "labelBound": false, "labelFlush": false}},
        "text": {"field": "t"}
      }
    }
  ]
},
{
  "width": 981,
  "height": 83,
  "layer": [
    {
      "data": {"values": [{"i": -1.3, "lv": 20}, {"i": 382.4, "lv": 20}]},
      "mark": {"type": "line", "color": "#c8c8c8", "strokeDash": [2, 2], "strokeWidth": 1},
      "encoding": {
        "x": {"field": "i", "type": "quantitative", "scale": {"domain": [-1.3, 382.4], "nice": false, "zero": false},
              "axis": {"orient": "bottom", "values": [0, 24, 48, 72, 96, 120, 144, 168, 192, 216, 240, 264, 288],
                       "labelExpr": "['30 May 2022','30 May 08:45','30 May 14:45','30 May 20:45','31 May 02:45','31 May 08:45','31 May 14:45','31 May 20:45','1 Jun 02:45','1 Jun 08:45','1 Jun 14:45','1 Jun 20:45','2 Jun 02:45'][round(datum.value/24)]",
                       "labelAlign": "left", "labelBaseline": "top", "tickSize": 3, "labelPadding": 1, "title": null, "labelOverlap": false, "labelFlush": false, "labelBound": false, "labelColor": "#333377"}},
        "y": {"field": "lv", "type": "quantitative", "scale": {"domain": [-5.6, 109.7], "nice": false, "zero": false},
              "axis": {"orient": "right", "values": [0, 20, 80, 100], "format": "d", "title": null, "tickSize": 3, "labelPadding": 2, "labelOverlap": false, "labelBound": false, "labelFlush": false}}
      }
    },
    {
      "data": {"values": [{"i": -1.3, "lv": 80}, {"i": 382.4, "lv": 80}]},
      "mark": {"type": "line", "color": "#c8c8c8", "strokeDash": [2, 2], "strokeWidth": 1},
      "encoding": {
        "x": {"field": "i", "type": "quantitative", "scale": {"domain": [-1.3, 382.4], "nice": false, "zero": false},
              "axis": {"orient": "bottom", "values": [0, 24, 48, 72, 96, 120, 144, 168, 192, 216, 240, 264, 288],
                       "labelExpr": "['30 May 2022','30 May 08:45','30 May 14:45','30 May 20:45','31 May 02:45','31 May 08:45','31 May 14:45','31 May 20:45','1 Jun 02:45','1 Jun 08:45','1 Jun 14:45','1 Jun 20:45','2 Jun 02:45'][round(datum.value/24)]",
                       "labelAlign": "left", "labelBaseline": "top", "tickSize": 3, "labelPadding": 1, "title": null, "labelOverlap": false, "labelFlush": false, "labelBound": false, "labelColor": "#333377"}},
        "y": {"field": "lv", "type": "quantitative", "scale": {"domain": [-5.6, 109.7], "nice": false, "zero": false},
              "axis": {"orient": "right", "values": [0, 20, 80, 100], "format": "d", "title": null, "tickSize": 3, "labelPadding": 2, "labelOverlap": false, "labelBound": false, "labelFlush": false}}
      }
    },
    {
      "data": {"name": "stoch"},
      "mark": {"type": "line", "color": "#76c6bd", "strokeWidth": 1.2, "clip": true},
      "encoding": {
        "x": {"field": "i", "type": "quantitative", "scale": {"domain": [-1.3, 382.4], "nice": false, "zero": false},
              "axis": {"orient": "bottom", "values": [0, 24, 48, 72, 96, 120, 144, 168, 192, 216, 240, 264, 288],
                       "labelExpr": "['30 May 2022','30 May 08:45','30 May 14:45','30 May 20:45','31 May 02:45','31 May 08:45','31 May 14:45','31 May 20:45','1 Jun 02:45','1 Jun 08:45','1 Jun 14:45','1 Jun 20:45','2 Jun 02:45'][round(datum.value/24)]",
                       "labelAlign": "left", "labelBaseline": "top", "tickSize": 3, "labelPadding": 1, "title": null, "labelOverlap": false, "labelFlush": false, "labelBound": false, "labelColor": "#333377"}},
        "y": {"field": "k", "type": "quantitative", "scale": {"domain": [-5.6, 109.7], "nice": false, "zero": false},
              "axis": {"orient": "right", "values": [0, 20, 80, 100], "format": "d", "title": null, "tickSize": 3, "labelPadding": 2, "labelOverlap": false, "labelBound": false, "labelFlush": false}}
      }
    },
    {
      "data": {"name": "stoch"},
      "mark": {"type": "line", "color": "#ff4a4a", "strokeWidth": 1, "strokeDash": [2, 2], "clip": true},
      "encoding": {
        "x": {"field": "i", "type": "quantitative", "scale": {"domain": [-1.3, 382.4], "nice": false, "zero": false},
              "axis": {"orient": "bottom", "values": [0, 24, 48, 72, 96, 120, 144, 168, 192, 216, 240, 264, 288],
                       "labelExpr": "['30 May 2022','30 May 08:45','30 May 14:45','30 May 20:45','31 May 02:45','31 May 08:45','31 May 14:45','31 May 20:45','1 Jun 02:45','1 Jun 08:45','1 Jun 14:45','1 Jun 20:45','2 Jun 02:45'][round(datum.value/24)]",
                       "labelAlign": "left", "labelBaseline": "top", "tickSize": 3, "labelPadding": 1, "title": null, "labelOverlap": false, "labelFlush": false, "labelBound": false, "labelColor": "#333377"}},
        "y": {"field": "d", "type": "quantitative", "scale": {"domain": [-5.6, 109.7], "nice": false, "zero": false},
              "axis": {"orient": "right", "values": [0, 20, 80, 100], "format": "d", "title": null, "tickSize": 3, "labelPadding": 2, "labelOverlap": false, "labelBound": false, "labelFlush": false}}
      }
    },
    {
      "data": {"values": [{"i": 0.8, "v": 98, "t": "Stoch(5,3,3) 62.5000 53.2546"}]},
      "mark": {"type": "text", "align": "left", "baseline": "middle", "font": "Liberation Sans", "fontSize": 8.3, "color": "#4a4ab8"},
      "encoding": {
        "x": {"field": "i", "type": "quantitative", "scale": {"domain": [-1.3, 382.4], "nice": false, "zero": false},
              "axis": {"orient": "bottom", "values": [0, 24, 48, 72, 96, 120, 144, 168, 192, 216, 240, 264, 288],
                       "labelExpr": "['30 May 2022','30 May 08:45','30 May 14:45','30 May 20:45','31 May 02:45','31 May 08:45','31 May 14:45','31 May 20:45','1 Jun 02:45','1 Jun 08:45','1 Jun 14:45','1 Jun 20:45','2 Jun 02:45'][round(datum.value/24)]",
                       "labelAlign": "left", "labelBaseline": "top", "tickSize": 3, "labelPadding": 1, "title": null, "labelOverlap": false, "labelFlush": false, "labelBound": false, "labelColor": "#333377"}},
        "y": {"field": "v", "type": "quantitative", "scale": {"domain": [-5.6, 109.7], "nice": false, "zero": false},
              "axis": {"orient": "right", "values": [0, 20, 80, 100], "format": "d", "title": null, "tickSize": 3, "labelPadding": 2, "labelOverlap": false, "labelBound": false, "labelFlush": false}},
        "text": {"field": "t"}
      }
    }
  ]
}
]
}
